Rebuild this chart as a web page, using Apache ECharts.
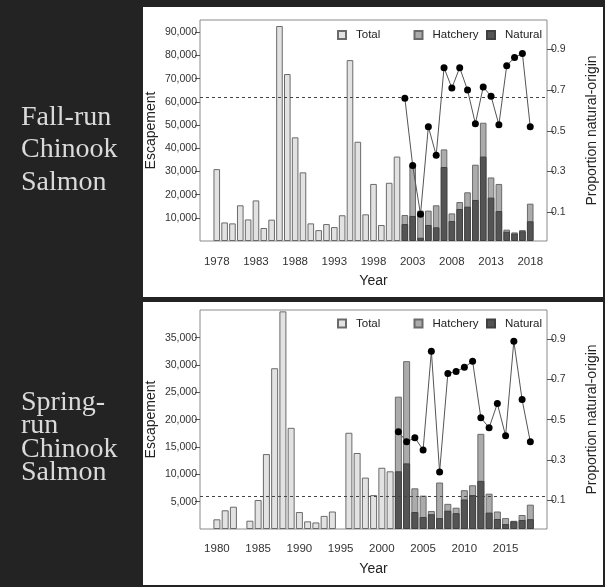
<!DOCTYPE html>
<html><head><meta charset="utf-8">
<script src="https://cdn.jsdelivr.net/npm/echarts@6/dist/echarts.min.js"></script>
<style>html,body{margin:0;padding:0;background:#232323}#c{width:605px;height:587px}</style>
</head><body><div id="c"></div>
<script>
// ---------- Fall-run data ----------
const fallYears = [1978,1979,1980,1981,1982,1983,1984,1985,1986,1987,1988,1989,1990,1991,1992,1993,1994,1995,1996,1997,1998,1999,2000,2001,2002,2003,2004,2005,2006,2007,2008,2009,2010,2011,2012,2013,2014,2015,2016,2017,2018];
const fallTotal = [31000,8000,7600,15400,9300,17500,5600,9200,92700,72000,44700,29600,7600,4700,7300,6000,11100,78000,42800,11500,24600,6900,25100,36400,11200,32800,13100,13100,15400,39500,11900,16800,21000,32900,51000,27400,24600,4900,3700,4700,16100];
const fallSplitYears = [2002,2003,2004,2005,2006,2007,2008,2009,2010,2011,2012,2013,2014,2015,2016,2017,2018];
const fallNatural = [7300,10800,1400,6900,5900,31900,8600,13800,14800,17700,36400,18700,12900,4000,3200,4200,8500];
const fallProportion = [0.66,0.33,0.09,0.52,0.38,0.81,0.71,0.81,0.70,0.535,0.715,0.67,0.53,0.82,0.86,0.88,0.52];
const fallGoal = 62200;
const fallLeftTicks = [10000,20000,30000,40000,50000,60000,70000,80000,90000];
const fallYearLabels = [1978,1983,1988,1993,1998,2003,2008,2013,2018];

// ---------- Spring-run data ----------
const springYears = [1980,1981,1982,1983,1984,1985,1986,1987,1988,1989,1990,1991,1992,1993,1994,1995,1996,1997,1998,1999,2000,2001,2002,2003,2004,2005,2006,2007,2008,2009,2010,2011,2012,2013,2014,2015,2016,2017,2018];
const springTotal = [1770,3420,4080,null,1520,5300,13700,29400,39800,18500,3100,1400,1200,2400,3200,null,17600,13900,9400,6200,11200,10550,24200,30700,7440,6100,3300,8500,4600,3900,7100,8000,17400,6460,3200,2000,1500,2560,4450];
const springSplitYears = [2002,2003,2004,2005,2006,2007,2008,2009,2010,2011,2012,2013,2014,2015,2016,2017,2018];
const springNatural = [10550,12000,3100,2200,2700,2000,3350,2900,5400,6200,8800,3000,1830,900,1400,1650,1800];
const springProportion = [0.44,0.39,0.41,0.35,0.84,0.24,0.73,0.74,0.76,0.79,0.51,0.46,0.58,0.42,0.89,0.60,0.39];
const springGoal = 6000;
const springLeftTicks = [5000,10000,15000,20000,25000,30000,35000];
const springYearLabels = [1980,1985,1990,1995,2000,2005,2010,2015];

const propTicks = [0.1,0.3,0.5,0.7,0.9];

// ---------- helpers ----------
const FONT = 'Liberation Sans';
const pairs = (xs, ys) => xs.map((x, i) => [x, ys[i]]);
const beforeSplit = (xs, ys, split) => xs.map((x, i) => [x, ys[i]]).filter(p => p[0] < split && p[1] != null);
const afterSplit = (xs, ys, split) => xs.map((x, i) => [x, ys[i]]).filter(p => p[0] >= split && p[1] != null);
const fmtThousands = v => Math.round(v).toLocaleString('en-US');

const totalStyle = {color: '#e2e2e2', borderColor: '#6a6a6a', borderWidth: 1};
const hatchStyle = {color: '#ababab', borderColor: '#6a6a6a', borderWidth: 1};
const natStyle = {color: '#545454', borderColor: '#404040', borderWidth: 1};

function panel(idx, cfg) {
  const xAxis = {
    type: 'value', gridIndex: idx, min: cfg.xmin, max: cfg.xmax,
    axisLine: {show: false}, axisTick: {show: false}, splitLine: {show: false},
    axisLabel: {customValues: cfg.yearLabels, margin: cfg.labelMargin, fontFamily: FONT, fontSize: 11.5, color: '#333', formatter: v => String(v)},
    name: 'Year', nameLocation: 'middle', nameGap: 33,
    nameTextStyle: {fontFamily: FONT, fontSize: 14, color: '#222'}
  };
  const yLeft = {
    type: 'value', gridIndex: idx, min: 0, max: cfg.ymax, position: 'left',
    axisLine: {show: false}, splitLine: {show: false},
    axisTick: {show: true, customValues: cfg.leftTicks, length: 5, lineStyle: {color: '#555'}},
    axisLabel: {customValues: cfg.leftTicks, formatter: fmtThousands, margin: 3, fontFamily: FONT, fontSize: 10.5, color: '#333'},
    name: 'Escapement', nameLocation: 'middle', nameRotate: 90, nameGap: 42, nameMoveOverlap: false,
    nameTextStyle: {fontFamily: FONT, fontSize: 14, color: '#222'}
  };
  const yRight = {
    type: 'value', gridIndex: idx, min: cfg.pmin, max: cfg.pmax, position: 'right',
    axisLine: {show: false}, splitLine: {show: false},
    axisTick: {show: true, customValues: propTicks, length: 7, lineStyle: {color: '#555'}},
    axisLabel: {customValues: propTicks, formatter: v => v.toFixed(1), margin: 4, fontFamily: FONT, fontSize: 10.5, color: '#333'},
    name: 'Proportion natural-origin', nameLocation: 'middle', nameRotate: 90, nameGap: 38,
    nameTextStyle: {fontFamily: FONT, fontSize: 14, color: '#222'}
  };
  const series = [
    {type: 'bar', name: 'Total', xAxisIndex: idx, yAxisIndex: 2*idx, barWidth: cfg.barW, barGap: '-100%',
     itemStyle: totalStyle, data: beforeSplit(cfg.years, cfg.total, 2002),
     markLine: {silent: true, symbol: 'none', label: {show: false},
       lineStyle: {type: [3, 3], color: '#444', width: 1}, data: [{yAxis: cfg.goal}]}},
    {type: 'bar', name: 'Hatchery', xAxisIndex: idx, yAxisIndex: 2*idx, barWidth: cfg.barW, barGap: '-100%',
     itemStyle: hatchStyle, data: afterSplit(cfg.years, cfg.total, 2002)},
    {type: 'bar', name: 'Natural', xAxisIndex: idx, yAxisIndex: 2*idx, barWidth: cfg.barW, barGap: '-100%',
     itemStyle: natStyle, data: pairs(cfg.splitYears, cfg.natural)},
    {type: 'line', name: 'Proportion', xAxisIndex: idx, yAxisIndex: 2*idx+1, symbol: 'circle', symbolSize: 7,
     itemStyle: {color: '#000'}, lineStyle: {color: '#555', width: 1}, z: 5,
     data: pairs(cfg.splitYears, cfg.proportion)}
  ];
  return {xAxis, yLeft, yRight, series};
}

const fallPanel = panel(0, {xmin: 1975.86, xmax: 2020.14, ymax: 95300, pmin: -0.041, pmax: 1.044, barW: 6.6, labelMargin: 15,
  years: fallYears, total: fallTotal, splitYears: fallSplitYears, natural: fallNatural, proportion: fallProportion,
  goal: fallGoal, leftTicks: fallLeftTicks, yearLabels: fallYearLabels});
const springPanel = panel(1, {xmin: 1977.95, xmax: 2020.02, ymax: 40050, pmin: -0.043, pmax: 1.045, barW: 7, labelMargin: 14,
  years: springYears, total: springTotal, splitYears: springSplitYears, natural: springNatural, proportion: springProportion,
  goal: springGoal, leftTicks: springLeftTicks, yearLabels: springYearLabels});

function legends(topY) {
  const base = {orient: 'horizontal', itemWidth: 8, itemHeight: 8, top: topY, selectedMode: false,
    textStyle: {fontFamily: FONT, fontSize: 11.5, color: '#222', padding: [0, 0, 0, 5]}};
  return [
    Object.assign({}, base, {left: 332, data: [{name: 'Total', icon: 'rect'}]}),
    Object.assign({}, base, {left: 408.5, data: [{name: 'Hatchery', icon: 'rect'}]}),
    Object.assign({}, base, {left: 481, data: [{name: 'Natural', icon: 'rect'}]})
  ];
}

const serif = 'Liberation Serif';
const labelText = (t, x, y) => ({type: 'text', x: x, y: y, z: 1,
  style: {text: t, fill: '#dadada', font: '28px "' + serif + '"', verticalAlign: 'middle', align: 'left'}});

const option = {
  backgroundColor: '#232323',
  animation: false,
  graphic: [
    {type: 'rect', z: -10, shape: {x: 143, y: 7, width: 460, height: 290}, style: {fill: '#ffffff'}},
    {type: 'rect', z: -10, shape: {x: 143, y: 302, width: 460, height: 283}, style: {fill: '#ffffff'}},
    labelText('Fall-run', 21, 117.5), labelText('Chinook', 21, 150), labelText('Salmon', 21, 183),
    labelText('Spring-', 21, 403), labelText('run', 21, 426), labelText('Chinook', 21, 449.5), labelText('Salmon', 21, 473)
  ],
  legend: legends(24).concat(legends(312.5)),
  grid: [
    {left: 200, top: 20, width: 347, height: 221, show: true, borderColor: '#8a8a8a', borderWidth: 1, backgroundColor: 'transparent', outerBoundsMode: 'none', containLabel: false},
    {left: 200, top: 310, width: 347, height: 219, show: true, borderColor: '#8a8a8a', borderWidth: 1, backgroundColor: 'transparent', outerBoundsMode: 'none', containLabel: false}
  ],
  xAxis: [fallPanel.xAxis, springPanel.xAxis],
  yAxis: [fallPanel.yLeft, fallPanel.yRight, springPanel.yLeft, springPanel.yRight],
  series: fallPanel.series.concat(springPanel.series)
};

const chart = echarts.init(document.getElementById('c'), null, {renderer: 'canvas'});
chart.setOption(option);
</script></body></html>
